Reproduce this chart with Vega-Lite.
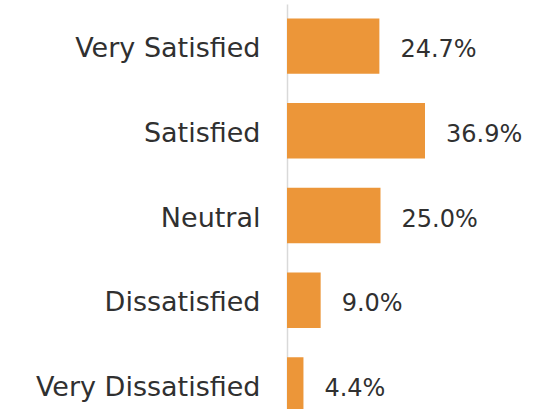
{
  "$schema": "https://vega.github.io/schema/vega-lite/v6.json",
  "autosize": {"type": "none"},
  "width": 268,
  "height": 423,
  "padding": {"left": 287, "top": 4, "right": 0, "bottom": 0},
  "background": "white",
  "data": {"values": [
    {"category": "Very Satisfied", "share": 0.247},
    {"category": "Satisfied", "share": 0.369},
    {"category": "Neutral", "share": 0.250},
    {"category": "Dissatisfied", "share": 0.090},
    {"category": "Very Dissatisfied", "share": 0.044}
  ]},
  "config": {"view": {"stroke": null}, "font": "DejaVu Sans"},
  "encoding": {
    "y": {
      "field": "category", "type": "nominal", "sort": null,
      "scale": {"paddingInner": 0.345, "paddingOuter": 0.17},
      "axis": {"title": null, "ticks": false, "domainColor": "#d9d9d9", "domainWidth": 1.5,
               "labelFontSize": 27, "labelColor": "#303030", "labelPadding": 27, "labelOffset": 3, "labelFont": "DejaVu Sans", "labelLimit": 400}
    },
    "x": {
      "field": "share", "type": "quantitative",
      "scale": {"domain": [0, 0.7166], "nice": false, "zero": true},
      "axis": null
    }
  },
  "layer": [
    {"mark": {"type": "bar", "color": "#EC9639"}},
    {"mark": {"type": "text", "align": "left", "baseline": "middle", "dx": 21, "dy": 4, "fontSize": 24, "color": "#303030", "font": "DejaVu Sans"},
     "encoding": {"text": {"field": "share", "type": "quantitative", "format": ".1%"}}}
  ]
}
